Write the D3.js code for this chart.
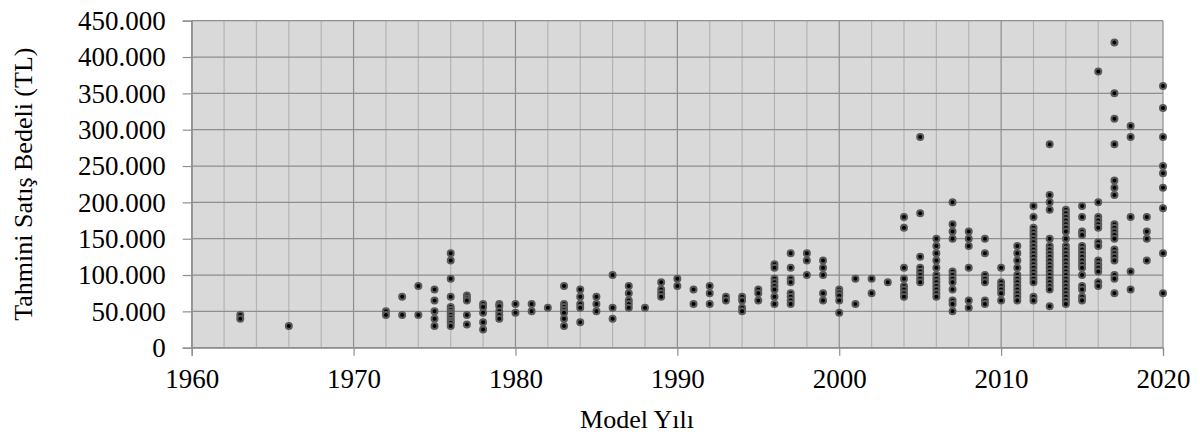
<!DOCTYPE html>
<html>
<head>
<meta charset="utf-8">
<script src="https://cdn.jsdelivr.net/npm/d3@7"></script>
<style>
  body { margin: 0; background: #fff; }
</style>
</head>
<body>
<div id="chart"></div>
<script>
// model years and the estimated prices (TL) seen for each year
const modelYears = [1963, 1966, 1972, 1973, 1974, 1975, 1976, 1977, 1978, 1979,
  1980, 1981, 1982, 1983, 1984, 1985, 1986, 1987, 1988, 1989,
  1990, 1991, 1992, 1993, 1994, 1995, 1996, 1997, 1998, 1999,
  2000, 2001, 2002, 2003, 2004, 2005, 2006, 2007, 2008, 2009,
  2010, 2011, 2012, 2013, 2014, 2015, 2016, 2017, 2018, 2019, 2020];

const pricesByYear = [
  [45000, 40000],
  [30000],
  [50000, 45000],
  [70000, 45000],
  [85000, 45000],
  [80000, 65000, 50000, 40000, 30000],
  [130000, 120000, 95000, 70000, 56000, 52000, 48000, 45000, 41000, 37000, 34000, 30000],
  [72000, 68000, 65000, 45000, 32000],
  [60000, 56000, 48000, 35000, 25000],
  [60000, 57000, 50000, 45000, 40000],
  [60000, 48000],
  [60000, 50000],
  [55000],
  [85000, 60000, 56000, 52000, 48000, 40000, 30000],
  [80000, 70000, 60000, 55000, 35000],
  [70000, 60000, 50000],
  [100000, 55000, 40000],
  [85000, 75000, 65000, 60000, 55000],
  [55000],
  [90000, 80000, 75000, 70000],
  [95000, 85000],
  [80000, 60000],
  [85000, 75000, 60000],
  [70000, 65000],
  [70000, 65000, 55000, 50000],
  [80000, 75000, 65000],
  [115000, 110000, 95000, 90000, 85000, 80000, 70000, 60000],
  [130000, 110000, 95000, 90000, 75000, 70000, 65000, 60000],
  [130000, 120000, 100000],
  [120000, 110000, 100000, 75000, 65000],
  [80000, 76000, 72000, 65000, 48000],
  [95000, 60000],
  [95000, 75000],
  [90000],
  [180000, 165000, 110000, 95000, 85000, 80000, 75000, 70000],
  [290000, 185000, 125000, 110000, 105000, 100000, 95000, 90000],
  [150000, 140000, 130000, 120000, 110000, 100000, 95000, 90000, 85000, 80000, 75000, 70000],
  [200000, 170000, 160000, 150000, 105000, 100000, 95000, 90000, 80000, 65000, 60000, 50000],
  [160000, 150000, 140000, 110000, 65000, 55000],
  [150000, 130000, 100000, 95000, 90000, 65000, 60000],
  [110000, 90000, 85000, 80000, 75000, 65000],
  [140000, 130000, 120000, 110000, 100000, 95000, 90000, 85000, 80000, 75000, 70000, 65000],
  [195000, 180000, 165000, 160000, 155000, 150000, 145000, 140000, 135000, 130000, 125000,
    120000, 115000, 110000, 105000, 100000, 95000, 90000, 70000, 65000],
  [280000, 210000, 200000, 190000, 150000, 140000, 135000, 130000, 125000, 120000, 115000,
    110000, 105000, 100000, 95000, 90000, 85000, 80000, 57000],
  [190000, 185000, 180000, 175000, 170000, 165000, 160000, 150000, 140000, 135000, 130000,
    125000, 120000, 115000, 110000, 105000, 100000, 95000, 90000, 85000, 80000, 75000,
    70000, 65000, 60000],
  [195000, 180000, 160000, 155000, 140000, 135000, 130000, 125000, 120000, 115000, 110000,
    100000, 85000, 80000, 70000, 65000],
  [380000, 200000, 180000, 175000, 170000, 165000, 145000, 140000, 120000, 115000, 110000,
    105000, 90000, 85000],
  [420000, 350000, 315000, 280000, 230000, 220000, 210000, 170000, 165000, 160000, 155000,
    150000, 135000, 130000, 125000, 120000, 100000, 95000, 75000],
  [305000, 290000, 180000, 105000, 80000],
  [180000, 160000, 150000, 120000],
  [360000, 330000, 290000, 250000, 240000, 220000, 192000, 130000, 75000]
];

const xTicks = [1960, 1970, 1980, 1990, 2000, 2010, 2020];
const xMinorTicks = d3.range(1960, 2021, 2);
const yTicks = d3.range(0, 450001, 50000);

const points = modelYears.flatMap((yr, i) => pricesByYear[i].map(v => ({ year: yr, price: v })));

const width = 1200, height = 437;
const margin = { top: 20.7, right: 37, bottom: 89.3, left: 191.7 };
const iw = width - margin.left - margin.right;
const ih = height - margin.top - margin.bottom;
const serif = '"Liberation Serif", Tinos, "Times New Roman", "Nimbus Roman", "DejaVu Serif", serif';

const trFormat = d3.formatLocale({ decimal: ",", thousands: ".", grouping: [3], currency: ["", ""] }).format(",");

const x = d3.scaleLinear().domain([1960, 2020]).range([0, iw]);
const y = d3.scaleLinear().domain([0, 450000]).range([ih, 0]);

const svg = d3.select('#chart').append('svg')
  .attr('width', width)
  .attr('height', height)
  .attr('font-family', serif);

const g = svg.append('g').attr('transform', `translate(${margin.left},${margin.top})`);

g.append('rect')
  .attr('width', iw)
  .attr('height', ih)
  .attr('fill', '#d9d9d9');

// minor vertical grid
g.append('g').selectAll('line')
  .data(xMinorTicks.filter(d => d % 10 !== 0))
  .join('line')
  .attr('x1', d => x(d)).attr('x2', d => x(d))
  .attr('y1', 0).attr('y2', ih)
  .attr('stroke', '#b4b4b4')
  .attr('stroke-width', 1.2);

// major vertical grid
g.append('g').selectAll('line')
  .data(xTicks)
  .join('line')
  .attr('x1', d => x(d)).attr('x2', d => x(d))
  .attr('y1', 0).attr('y2', ih)
  .attr('stroke', '#8e8e8e')
  .attr('stroke-width', 1.2);

// horizontal grid
g.append('g').selectAll('line')
  .data(yTicks)
  .join('line')
  .attr('x1', 0).attr('x2', iw)
  .attr('y1', d => y(d)).attr('y2', d => y(d))
  .attr('stroke', '#8e8e8e')
  .attr('stroke-width', 1.2);

// y axis
const yAxis = g.append('g')
  .call(d3.axisLeft(y).tickValues(yTicks).tickFormat(d => d === 0 ? '0' : trFormat(d)).tickSize(9).tickPadding(17))
  .attr('font-family', serif)
  .attr('font-size', 27);
yAxis.select('.domain').attr('stroke', '#8e8e8e').attr('stroke-width', 1.2);
yAxis.selectAll('.tick line').attr('stroke', '#8e8e8e').attr('stroke-width', 1.2);
yAxis.selectAll('text').attr('fill', '#000');

// x axis
const xAxis = g.append('g')
  .attr('transform', `translate(0,${ih})`)
  .call(d3.axisBottom(x).tickValues(xTicks).tickFormat(d3.format('d')).tickSize(8).tickPadding(13))
  .attr('font-family', serif)
  .attr('font-size', 27);
xAxis.select('.domain').attr('stroke', '#8e8e8e').attr('stroke-width', 1.2);
xAxis.selectAll('.tick line').attr('stroke', '#8e8e8e').attr('stroke-width', 1.2);
xAxis.selectAll('text').attr('fill', '#000');

// points
g.append('g').selectAll('circle')
  .data(points)
  .join('circle')
  .attr('cx', d => x(d.year))
  .attr('cy', d => y(d.price))
  .attr('r', 3)
  .attr('fill', '#000')
  .attr('stroke', '#5a5a5a')
  .attr('stroke-width', 2);

// axis titles
svg.append('text')
  .attr('x', 637)
  .attr('y', 428)
  .attr('text-anchor', 'middle')
  .attr('font-size', 26)
  .text('Model Yılı');

svg.append('text')
  .attr('transform', `translate(32,${margin.top + ih / 2}) rotate(-90)`)
  .attr('text-anchor', 'middle')
  .attr('font-size', 26)
  .text('Tahmini Satış Bedeli (TL)');
</script>
</body>
</html>
